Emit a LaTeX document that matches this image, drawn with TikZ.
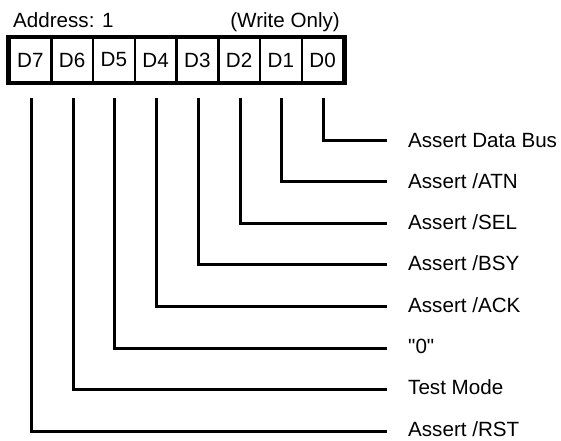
\documentclass[tikz,border=0pt]{standalone}
\usepackage{fontspec}
\newfontfamily\regfont{Liberation Sans}
\begin{document}
\begin{tikzpicture}[x=1pt,y=-1pt,font=\regfont\fontsize{20.6}{24}\selectfont,
        bitcell/.style={draw,line width=2.5pt,minimum width=41.75pt,minimum height=44pt,inner sep=0pt},
        bitlabel/.style={anchor=base west,inner sep=0pt},
        bitline/.style={line width=3pt}]
                    \useasboundingbox (0,0) rectangle (561,440);

                    \node [anchor=base west,inner sep=0pt] (addr) at (13,27) {Address: 1};
                    \node [anchor=base east,inner sep=0pt] (access) at (340,27) {(Write Only)};

                    \foreach \b [count=\i from 0] in {7,6,5,4,3,2,1,0} {
                        \node [bitcell] (d\b) at (30.375+41.75*\i,60) {D\b};
                    }
                    \draw [line width=4pt] (d7.north west) rectangle (d0.south east);

                    \foreach \b/\txt in {0/{Assert Data Bus},1/{Assert /ATN},2/{Assert /SEL},3/{Assert /BSY},4/{Assert /ACK},5/{"0"},6/{Test Mode},7/{Assert /RST}} {
                        \coordinate (e\b) at (387,140+41.64*\b);
                        \node [bitlabel] (l\b) at (408,147+41.3*\b) {\txt};
                        \draw [bitline] ([xshift=1pt,yshift=-15pt]d\b.south) |- (e\b);
                    }
                \end{tikzpicture}
\end{document}
